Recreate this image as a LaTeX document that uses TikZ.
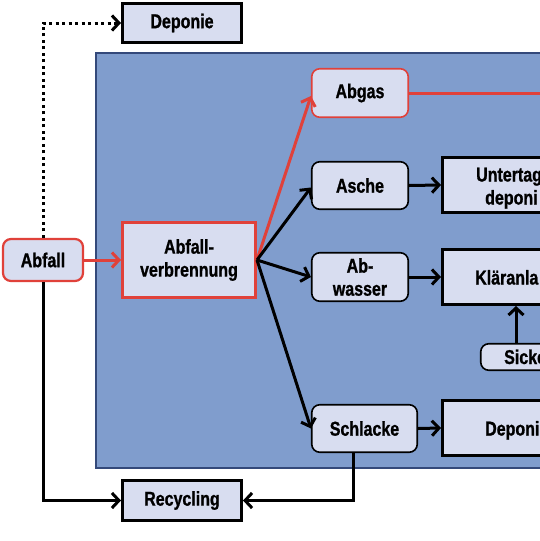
\documentclass[tikz,border=0pt]{standalone}
\usepackage{fontspec}
\setmainfont{Liberation Sans}[FakeStretch=0.8, BoldFeatures={FakeBold=1}]
\usetikzlibrary{arrows.meta}
\definecolor{boxfill}{HTML}{D8DDF0}
\definecolor{panelfill}{HTML}{809DCD}
\definecolor{paneldraw}{HTML}{34497A}
\definecolor{redc}{HTML}{E0413A}
\tikzset{
  sqbox/.style={draw=black, line width=3pt, fill=boxfill, inner sep=0pt, align=center},
  rbox/.style={draw=black, line width=1.6pt, rounded corners=8pt, fill=boxfill, inner sep=0pt, align=center},
  arr/.style={line width=3pt, -{Straight Barb[length=7pt,width=15pt]}},
  redarr/.style={arr, draw=redc},
  cut/.style={inner sep=0pt, anchor=base west},
}
\begin{document}
\begin{tikzpicture}[x=1pt,y=-1pt,font=\fontsize{20}{23}\selectfont\bfseries]
\useasboundingbox (0,0) rectangle (540,541);
\clip (0,0) rectangle (540,541);
% panel
\fill[panelfill, draw=paneldraw, line width=1.8pt] (96,53) rectangle (580,468);
% nodes
\node[sqbox, minimum width=119pt, minimum height=39pt] (dep1) at (182,23) {Deponie};
\node[rbox, draw=redc, line width=2.2pt, minimum width=80pt, minimum height=42pt] (abfall) at (43,260) {Abfall};
\node[sqbox, draw=redc, minimum width=133pt, minimum height=75pt] (verbr) at (189,260) {Abfall-\\verbrennung};
\node[rbox, draw=redc, minimum width=96.5pt, minimum height=48.5pt] (abgas) at (360,93) {Abgas};
\node[rbox, minimum width=96.5pt, minimum height=47.5pt] (asche) at (360,185.5) {Asche};
\node[rbox, minimum width=96.5pt, minimum height=48.5pt] (abw) at (360,277) {Ab-\\wasser};
\node[rbox, minimum width=105.5pt, minimum height=47.5pt] (schl) at (364.5,428.5) {Schlacke};
\node[sqbox, minimum width=147pt, minimum height=55pt] (unter) at (516,185) {};
\node[sqbox, minimum width=147pt, minimum height=55pt] (klaer) at (516,277) {};
\node[rbox, minimum width=148.5pt, minimum height=26.5pt] (sicker) at (555,357) {};
\node[sqbox, minimum width=147pt, minimum height=55pt] (dep2) at (516,428) {};
\node[sqbox, minimum width=119pt, minimum height=40pt] (recyc) at (182,500.5) {Recycling};
% truncated labels
\node[cut] (untertxt) at (476,181.5) {Untertag};
\node[cut] (deponitxt) at (485,204.5) {deponi};
\node[cut] (klaertxt) at (475,284.5) {Kläranla};
\node[cut] (sicktxt) at (504,364) {Sicke};
\node[cut] (dep2txt) at (485,435.5) {Deponi};
\coordinate (redend) at (560,93);
% connectors
\draw[arr, dash pattern=on 3pt off 3.5pt, line width=3pt] (abfall.north) |- (dep1.west);
\draw[redarr] (abfall.east) -- (verbr.west);
\draw[arr] (abfall.south) |- (recyc.west);
\draw[arr] ([xshift=-11pt]schl.south) |- (recyc.east);
\draw[redarr] (verbr.east) -- ([yshift=-3pt]abgas.west);
\draw[arr] (verbr.east) -- ([yshift=-2pt]asche.west);
\draw[arr] (verbr.east) -- (abw.west);
\draw[arr] (verbr.east) -- (schl.west);
\draw[line width=3pt, draw=redc] (abgas.east) -- (redend);
\draw[arr] (asche.east) -- (unter.west);
\draw[arr] (abw.east) -- (klaer.west);
\draw[arr] (schl.east) -- (dep2.west);
\draw[arr] (klaer.south |- sicker.north) -- (klaer.south);
\end{tikzpicture}
\end{document}
